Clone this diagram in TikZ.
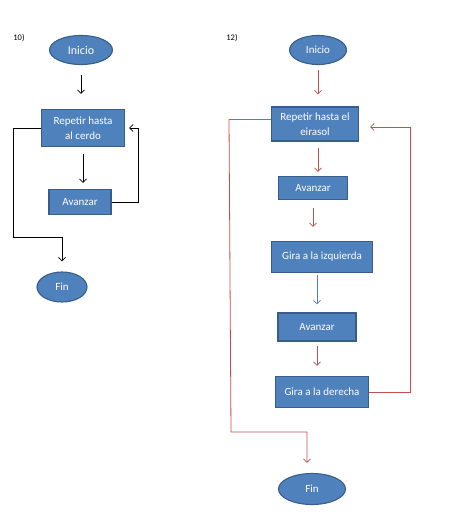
\documentclass[tikz,border=0pt]{standalone}
\usepackage{fontspec}
\setmainfont{Carlito}
\usetikzlibrary{arrows.meta, shapes.geometric}

\definecolor{boxblue}{HTML}{4F81BD}
\definecolor{boxedge}{HTML}{385D8A}
\definecolor{flowred}{HTML}{C0504D}

\begin{document}
\begin{tikzpicture}[
    x=1pt, y=-1pt,
    startstop/.style={
        ellipse,
        draw=boxedge,
        line width=1.1pt,
        fill=boxblue,
        text=white,
        inner sep=0pt,
        font=\fontsize{11}{13}\selectfont,
    },
    procbox/.style={
        rectangle,
        draw=boxedge,
        line width=1.1pt,
        fill=boxblue,
        text=white,
        inner sep=0pt,
        align=center,
        font=\fontsize{11}{15}\selectfont,
    },
    flow/.style={
        line width=0.8pt,
        -{Straight Barb[length=3.5pt, width=7pt]},
    },
    tag/.style={
        font=\fontsize{8.5}{9}\selectfont,
    }
]
    \useasboundingbox (0,0) rectangle (449,524);

    % Left flowchart (10)
    \node[tag] (tagA) at (19,38) {10)};
    \node[startstop, minimum width=63, minimum height=29, font=\fontsize{12}{13}\selectfont] (inicioA) at (81,50) {Inicio};
    \node[procbox, minimum width=83, minimum height=37] (repA) at (83,128) {Repetir hasta\\al cerdo};
    \node[procbox, minimum width=62, minimum height=25] (avA) at (80,202) {Avanzar};
    \node[startstop, minimum width=50, minimum height=30] (finA) at (62,287) {Fin};

    \draw[flow, shorten <=10pt, shorten >=15pt] (inicioA.south) -- (inicioA.south |- repA.north);
    \draw[flow, shorten <=7pt, shorten >=6pt] (repA.south) -- (repA.south |- avA.north);
    \draw[flow] (avA.east) -- (138,202) |- ([xshift=4pt]repA.east);
    \draw[flow, shorten >=10pt] (repA.west) -- (13,128) |- (62,237) -- (finA.north);

    % Right flowchart (12)
    \node[tag] (tagB) at (232,38) {12)};
    \node[startstop, minimum width=57, minimum height=29] (inicioB) at (318,50) {Inicio};
    \node[procbox, minimum width=87, minimum height=34] (repB) at (315,124) {Repetir hasta el\\eirasol};
    \node[procbox, minimum width=69, minimum height=23] (avB1) at (313,188) {Avanzar};
    \node[procbox, minimum width=101, minimum height=31] (girB1) at (322,257) {Gira a la izquierda};
    \node[procbox, minimum width=78, minimum height=28] (avB2) at (317,327) {Avanzar};
    \node[procbox, minimum width=93, minimum height=31] (girB2) at (322,392) {Gira a la derecha};
    \node[startstop, minimum width=67, minimum height=31] (finB) at (312,489) {Fin};
    \coordinate (exitB) at (229,119);

    \draw[flow, flowred, shorten <=5pt, shorten >=12pt] (inicioB.south) -- (inicioB.south |- repB.north);
    \draw[flow, flowred, shorten <=6pt, shorten >=4pt] ([xshift=3pt]repB.south) -- ([xshift=3pt]repB.south |- avB1.north);
    \draw[flow, flowred, shorten <=8pt, shorten >=14pt] (avB1.south) -- (avB1.south |- girB1.north);
    \draw[flow, boxblue, shorten <=2pt, shorten >=8pt] (avB2.north |- girB1.south) -- (avB2.north);
    \draw[flow, flowred, shorten <=4pt, shorten >=10pt] (avB2.south) -- (avB2.south |- girB2.north);
    \draw[flow, flowred] (girB2.east) -- (410,392) |- ([shift={(11pt,-3pt)}]repB.east);
    \draw[line width=0.8pt, boxblue] ([yshift=5pt]repB.west) -- (exitB);
    \draw[flow, flowred, shorten >=10pt] (exitB) -- (231,432) -| ([xshift=-5pt]finB.north);
\end{tikzpicture}
\end{document}
